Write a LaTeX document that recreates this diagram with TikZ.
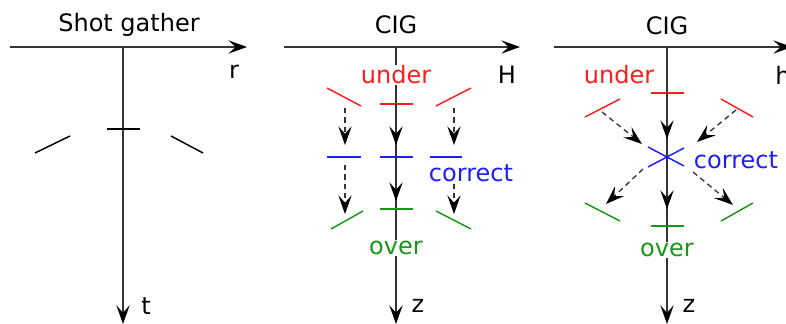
\documentclass[tikz,border=0pt]{standalone}
\usepackage{fontspec}
\setmainfont{DejaVu Sans}
\usepackage{tikz}
\usetikzlibrary{arrows.meta}
\usepackage{xcolor}
\definecolor{undercol}{RGB}{250,30,30}
\definecolor{correctcol}{RGB}{30,30,250}
\definecolor{overcol}{RGB}{25,150,25}

\begin{document}
\begin{tikzpicture}[x=0.75pt,y=0.75pt,yscale=-1,xscale=1,
  font=\fontsize{18}{21}\selectfont,
  axis/.style={draw=black!80, line width=1.1pt, -{Stealth[length=14pt,width=10pt,inset=5.5pt,black]}},
  seg/.style={line width=1.1pt},
  move/.style={black!80, line width=1pt, dash pattern=on 4pt off 3pt, -{Stealth[length=14pt,width=10pt,inset=5.5pt,black]}},
  push/.style={black!80, line width=1.1pt, -{Stealth[length=14pt,width=10pt,inset=5.5pt,black]}},
  lbl/.style={inner sep=0.75pt, fill=white}]
\useasboundingbox (0,0) rectangle (786,324);

%%%%% Shot gather
% Text Node
\node (shot) at (129,25) {Shot gather};
\coordinate (sgL) at (10,47);
\coordinate (sgR) at (247,47);
\coordinate (sgT) at (123,47);
\coordinate (sgB) at (123,324);
\draw[axis] (sgL) -- (sgR);
\draw[axis] (sgT) -- (sgB);
% Text Node
\node (r) at (234,72) {r};
% Text Node
\node (t) at (146,306) {t};
%Straight Lines
\draw[seg] (107,129) -- (140,129);
\draw[seg] (35,153) -- (70,136);
\draw[seg] (171,136) -- (203,153);

%%%%% CIG in H
% Text Node
\node (cigH) at (396,25) {CIG};
\coordinate (hhL) at (284,47);
\coordinate (hhR) at (520,47);
\coordinate (hhT) at (396,47);
\coordinate (hhB) at (396,324);
\draw[axis] (hhL) -- (hhR);
\draw[axis] (hhT) -- (hhB);
% Text Node
\node (H) at (507,75) {H};
% Text Node
\node (zH) at (418,306) {z};
%Straight Lines
\draw[seg, undercol] (327,88) -- (361,106);
\draw[seg, undercol] (380,104) -- (413,104);
\draw[seg, undercol] (436,106) -- (471,88);
\draw[seg, correctcol] (327,157) -- (361,157);
\draw[seg, correctcol] (380,157) -- (413,157);
\draw[seg, correctcol] (430,157) -- (462,157);
\draw[seg, overcol] (331,229) -- (363,211);
\draw[seg, overcol] (380,209) -- (413,209);
\draw[seg, overcol] (436,211) -- (471,229);
% moves
\coordinate (hL1) at (345,108); \coordinate (hL2) at (345,145);
\coordinate (hL3) at (345,165); \coordinate (hL4) at (345,214);
\coordinate (hR1) at (454,108); \coordinate (hR2) at (454,145);
\coordinate (hR3) at (454,165); \coordinate (hR4) at (454,214);
\coordinate (hC1) at (396,104); \coordinate (hC2) at (396,145);
\coordinate (hC3) at (396,157); \coordinate (hC4) at (396,201);
\draw[move] (hL1) -- (hL2);
\draw[move] (hL3) -- (hL4);
\draw[move] (hR1) -- (hR2);
\draw[move] (hR3) -- (hR4);
\draw[push] (hC1) -- (hC2);
\draw[push] (hC3) -- (hC4);
% Text Node
\node[lbl, text=undercol] (underH) at (396,75) {under};
% Text Node
\node[lbl, text=correctcol] (correctH) at (471,173) {correct};
% Text Node
\node[lbl, text=overcol] (overH) at (396,248) {over};

%%%%% CIG in h
% Text Node
\node (cigh) at (667,26) {CIG};
\coordinate (shL) at (554,47);
\coordinate (shR) at (792,47);
\coordinate (shT) at (667,47);
\coordinate (shB) at (667,324);
\draw[axis] (shL) -- (shR);
\draw[axis] (shT) -- (shB);
% Text Node
\node (h) at (783,75) {h};
% Text Node
\node (zh) at (689,306) {z};
%Straight Lines
\draw[seg, undercol] (651,93) -- (684,93);
\draw[seg, undercol] (585,117) -- (620,99);
\draw[seg, undercol] (721,99) -- (753,117);
\draw[seg, correctcol] (648,147) -- (684,166);
\draw[seg, correctcol] (648,167) -- (684,148);
\draw[seg, overcol] (651,226) -- (684,226);
\draw[seg, overcol] (585,203) -- (620,221);
\draw[seg, overcol] (721,221) -- (753,203);
% moves
\coordinate (sUL) at (602,112); \coordinate (sX1) at (642,144);
\coordinate (sUR) at (736,110); \coordinate (sX2) at (697,142);
\coordinate (sX3) at (643,169); \coordinate (sOL) at (606,204);
\coordinate (sX4) at (693,172); \coordinate (sOR) at (733,205);
\coordinate (sC1) at (667,93);  \coordinate (sC2) at (667,139);
\coordinate (sC3) at (667,157); \coordinate (sC4) at (667,209);
\draw[move] (sUL) -- (sX1);
\draw[move] (sUR) -- (sX2);
\draw[move] (sX3) -- (sOL);
\draw[move] (sX4) -- (sOR);
\draw[push] (sC1) -- (sC2);
\draw[push] (sC3) -- (sC4);
% Text Node
\node[text=undercol] (underh) at (619,75) {under};
% Text Node
\node[text=correctcol] (correcth) at (736,160) {correct};
% Text Node
\node[lbl, text=overcol] (overh) at (667,250) {over};

\end{tikzpicture}
\end{document}
